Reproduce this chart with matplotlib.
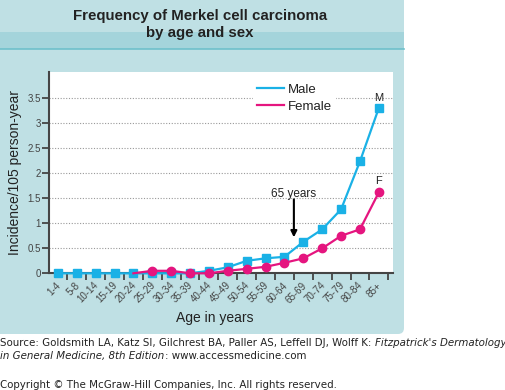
import matplotlib
matplotlib.use("Agg")
import matplotlib.pyplot as plt
import matplotlib.transforms as mtransforms
from matplotlib.patches import FancyBboxPatch, Rectangle
from matplotlib.lines import Line2D

ages = ["1-4", "5-8", "10-14", "15-19", "20-24", "25-29", "30-34", "35-39",
        "40-44", "45-49", "50-54", "55-59", "60-64", "65-69", "70-74",
        "75-79", "80-84", "85+"]
male = [0, 0, 0, 0, 0, 0, 0, 0, 0.05, 0.12, 0.25, 0.30, 0.33, 0.63,
        0.88, 1.28, 2.24, 3.31]
# female line starts at 20-24 (no marker there)
female = [None, None, None, None, 0, 0.05, 0.05, 0, 0, 0.05, 0.09, 0.13,
          0.21, 0.30, 0.50, 0.75, 0.88, 1.62]
yticks = [0, 0.5, 1, 1.5, 2, 2.5, 3, 3.5]
ytick_labels = ["0", "0.5", "1", "1.5", "2", "2.5", "3", "3.5"]

W, H = 506, 390
male_c = "#1ab1e6"
female_c = "#e5157f"
panel_c = "#bfe0e4"
band_c = "#a4d4db"
axis_c = "#454545"

plt.rcParams['font.family'] = ['Liberation Sans', 'DejaVu Sans']

fig = plt.figure(figsize=(W / 100, H / 100), dpi=100)
fig.patch.set_facecolor("white")
pix = mtransforms.IdentityTransform()


def py(y):
    # top-based pixel -> display y
    return H - y


# background panel
panel = FancyBboxPatch((-20, py(334)), 424, 334 + 20, boxstyle="round,pad=0,rounding_size=6",
                       transform=pix, facecolor=panel_c, edgecolor="none", zorder=0)
fig.add_artist(panel)
fig.add_artist(Rectangle((0, py(49)), 404, 17, transform=pix, facecolor=band_c,
                         edgecolor="none", zorder=0))
fig.add_artist(Line2D([0, 404], [py(49), py(49)], transform=pix, color="#6fc0cb",
                      lw=1.2, zorder=0))

fig.text(200 / W, 1 - 24.5 / H, "Frequency of Merkel cell carcinoma\nby age and sex",
         ha="center", va="center", fontsize=10.8, fontweight="bold", color="#222222",
         linespacing=1.35)

ax = fig.add_axes([49 / W, 1 - 273.3 / H, (393 - 49) / W, (273.3 - 72) / H])
ax.set_facecolor("white")
x = list(range(len(ages)))

ax.plot(x, male, color=male_c, lw=1.6, marker="s", ms=5.5, clip_on=False, zorder=3,
        label="Male")
fx = [i for i, v in enumerate(female) if v is not None]
fv = [v for v in female if v is not None]
ax.plot(fx, fv, color=female_c, lw=1.6, marker="o", ms=6, markevery=list(range(1, len(fx))),
        clip_on=False, zorder=4, label="Female")

ax.set_xlim(-0.47, 17.75)
ax.set_ylim(0, 4.03)
ax.set_yticks(yticks)
ax.set_yticklabels(ytick_labels, fontsize=7, color="#444444")
ax.set_xticks([i + 0.5 for i in x])
ax.set_xticklabels([])
ax.set_xticks(x, minor=True)
ax.set_xticklabels(ages, minor=True, rotation=45, ha="right", rotation_mode="anchor",
                   fontsize=7, color="#444444")
ax.tick_params(axis="x", which="minor", length=0, pad=5)
ax.tick_params(axis="x", which="major", length=5, width=1.3, color=axis_c)
ax.tick_params(axis="y", length=5, width=1.3, color=axis_c, pad=1)
for lab in ax.get_xticklabels(minor=True):
    lab.set_transform(lab.get_transform() + mtransforms.Affine2D().translate(-2, 0))

for s in ["top", "right"]:
    ax.spines[s].set_visible(False)
for s in ["left", "bottom"]:
    ax.spines[s].set_color(axis_c)
    ax.spines[s].set_linewidth(1.5)

for yv in yticks[1:]:
    ax.axhline(yv, color="#999999", lw=0.8, ls=(0, (1, 1.5)), zorder=1)

leg = ax.legend(loc="upper left", bbox_to_anchor=(0.575, 0.995), fontsize=9.5, frameon=True,
                facecolor="white", edgecolor="none", framealpha=1, handlelength=2.0,
                handletextpad=0.3, labelspacing=0.35, borderpad=0.3)
for h in leg.legend_handles:
    h.set_marker("")
for t in leg.get_texts():
    t.set_color("#222222")

ax.text(17, 3.50, "M", ha="center", va="center", fontsize=8, color="#222222")
ax.text(17, 1.84, "F", ha="center", va="center", fontsize=8, color="#222222")
ax.text(12.5, 1.59, "65 years", ha="center", va="center", fontsize=8.5, color="#222222")
ax.annotate("", xy=(12.5, 0.72), xytext=(12.5, 1.48),
            arrowprops=dict(arrowstyle="-|>", color="black", lw=1.5,
                            mutation_scale=9, shrinkA=0, shrinkB=0))

ax.set_ylabel("Incidence/105 person-year", fontsize=10, color="#222222", labelpad=4)
fig.text(215 / W, 1 - 318 / H, "Age in years", ha="center", va="center", fontsize=10,
         color="#222222")

# source lines with mixed italics
renderer = fig.canvas.get_renderer()


def put_runs(y, runs, size=7.4):
    xpos = 0.5
    for txt, style in runs:
        t = fig.text(xpos / W, 1 - y / H, txt, ha="left", va="center", fontsize=size,
                     style=style, family="DejaVu Sans", color="#222222")
        bb = t.get_window_extent(renderer)
        xpos += bb.width


put_runs(343.5, [("Source: Goldsmith LA, Katz SI, Gilchrest BA, Paller AS, Leffell DJ, Wolff K: ", "normal"),
                 ("Fitzpatrick's Dermatology", "italic")])
put_runs(356, [("in General Medicine, 8th Edition", "italic"), (": www.accessmedicine.com", "normal")])
put_runs(384.5, [("Copyright \u00a9 The McGraw-Hill Companies, Inc. All rights reserved.", "normal")])

fig.savefig("out.png", dpi=100)
